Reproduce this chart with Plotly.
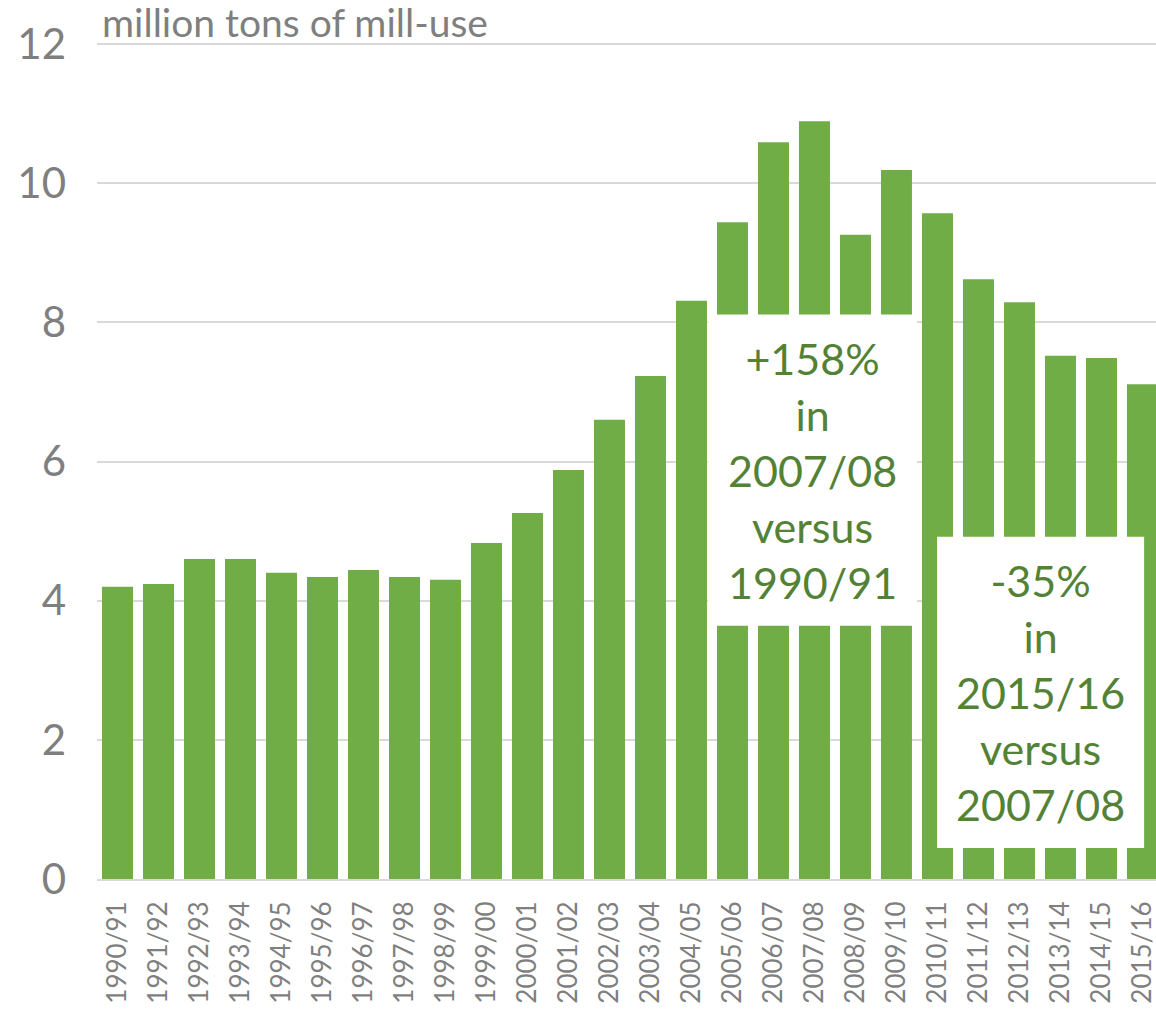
import plotly.graph_objects as go

seasons = ["1990/91", "1991/92", "1992/93", "1993/94", "1994/95", "1995/96", "1996/97",
           "1997/98", "1998/99", "1999/00", "2000/01", "2001/02", "2002/03", "2003/04",
           "2004/05", "2005/06", "2006/07", "2007/08", "2008/09", "2009/10", "2010/11",
           "2011/12", "2012/13", "2013/14", "2014/15", "2015/16"]
mill_use = [4.20, 4.24, 4.60, 4.60, 4.40, 4.34, 4.44, 4.34, 4.30, 4.83, 5.26, 5.88, 6.60,
            7.23, 8.31, 9.44, 10.59, 10.89, 9.26, 10.19, 9.57, 8.62, 8.29, 7.52, 7.49, 7.11]
y_ticks = [0, 2, 4, 6, 8, 10, 12]

BAR = "#70AD47"
TXT = "#538135"
GRAY = "#7f7f7f"
FONT = "Lato"

W, H = 1156, 1011
L, T, B = 97, 42, 132

fig = go.Figure(go.Bar(x=list(range(len(seasons))), y=mill_use, marker_color=BAR,
                       marker_line_width=0))

boxes = [
    (14.40, 19.50, 3.64, 8.115, "+158%<br>in<br>2007/08<br>versus<br>1990/91"),
    (19.99, 25.04, 0.446, 4.92, "-35%<br>in<br>2015/16<br>versus<br>2007/08"),
]
for x0, x1, y0, y1, txt in boxes:
    fig.add_shape(type="rect", x0=x0, x1=x1, y0=y0, y1=y1, xref="x", yref="y",
                  fillcolor="white", line_width=0, layer="above")
    fig.add_annotation(x=(x0 + x1) / 2, y=(y0 + y1) / 2, xref="x", yref="y", text=txt,
                       showarrow=False, font=dict(family=FONT, size=43, color=TXT),
                       align="center")

fig.add_annotation(x=(100 - L) / (W - L), y=1 + (T - 22) / (H - T - B), xref="paper",
                   yref="paper", text="million tons of mill-use", showarrow=False,
                   xanchor="left", yanchor="middle",
                   font=dict(family=FONT, size=39, color=GRAY))

fig.update_layout(
    width=W, height=H,
    margin=dict(l=L, r=0, t=T, b=B, autoexpand=False),
    plot_bgcolor="white", paper_bgcolor="white",
    bargap=0.244, showlegend=False,
    xaxis=dict(tickmode="array", tickvals=list(range(len(seasons))), ticktext=seasons,
               tickangle=-90, range=[-0.5, 25.33], showgrid=False,
               showline=True, linecolor="#d9d9d9", linewidth=2,
               tickfont=dict(family=FONT, size=26, color=GRAY), ticks="",
               ticklabelstandoff=10, ticklabeloverflow="allow"),
    yaxis=dict(range=[0, 12.03], tickvals=y_ticks, showgrid=True, gridcolor="#d9d9d9",
               gridwidth=1.5, zeroline=False, showline=False, ticks="",
               tickfont=dict(family=FONT, size=42, color=GRAY), ticklabelstandoff=30),
)

fig.write_html("out.html", config={"displayModeBar": False},
               post_script="document.body.style.margin='0px';")
